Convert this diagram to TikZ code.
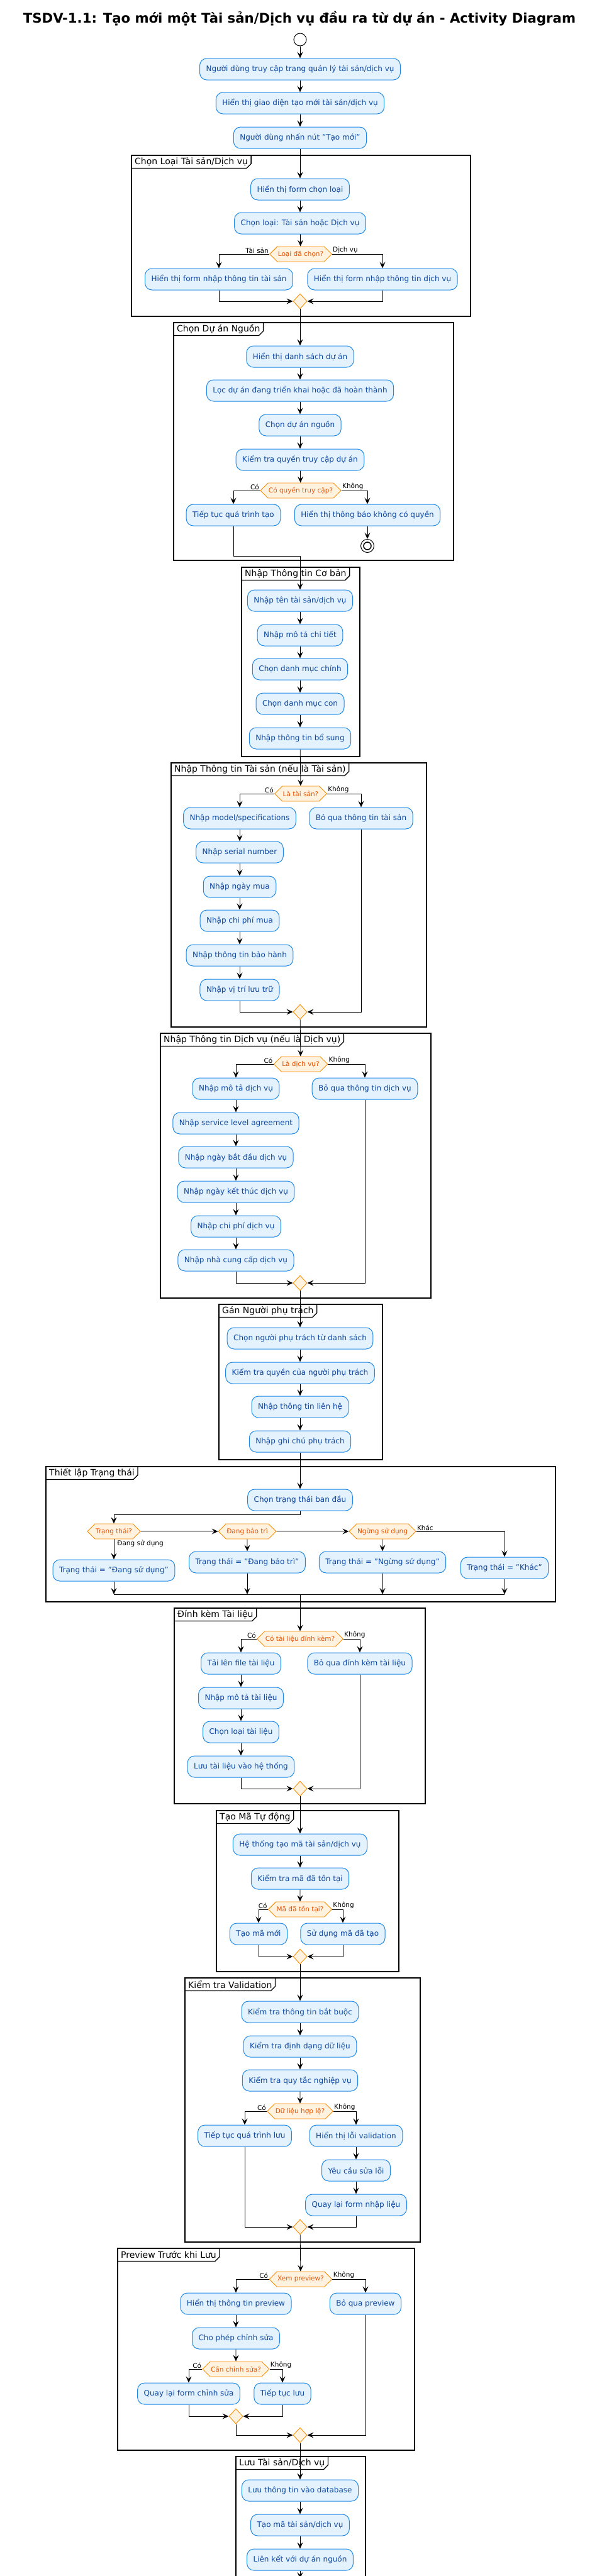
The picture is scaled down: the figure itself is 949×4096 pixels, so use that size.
\documentclass[tikz,border=0pt]{standalone}
\usepackage{fontspec}
\setmainfont{DejaVu Sans}
\usepackage{xcolor}
\usepackage{tikz}
\usetikzlibrary{arrows.meta,shapes.geometric,shapes.symbols}
\definecolor{actfill}{HTML}{E3F2FD}
\definecolor{actline}{HTML}{1E88E5}
\definecolor{acttext}{HTML}{0D47A1}
\definecolor{decfill}{HTML}{FFF3E0}
\definecolor{decline}{HTML}{FB8C00}
\definecolor{dectext}{HTML}{E65100}
\newcommand{\grpframe}[6]{%
   \draw[grp] (#2,#3) rectangle (#4,#5);
   \node[grplbl, anchor=north west] (#1) at (#2,#3) {#6};
   \draw[grp] (#1.south west) -- ([xshift=-7pt]#1.south east) -- ([yshift=7pt]#1.south east) -- (#1.north east);
}

\begin{document}
\begin{tikzpicture}[x=1pt,y=-1pt,
   act/.style={rectangle, rounded corners=11pt, draw=actline, fill=actfill, text=acttext, line width=1pt,
      font=\fontsize{12}{14}\selectfont, minimum height=34pt, inner xsep=10pt},
   dec/.style={signal, signal to=east and west, signal from=nowhere, draw=decline, fill=decfill, text=dectext,
      line width=0.9pt, font=\fontsize{10.5}{12}\selectfont, minimum height=24pt, inner xsep=1pt, inner ysep=0pt},
   mrg/.style={diamond, draw=decline, fill=decfill, line width=0.9pt, minimum width=22pt, minimum height=24pt, inner sep=0pt},
   lbl/.style={font=\fontsize{10.5}{12}\selectfont, inner sep=1pt},
   grp/.style={line width=1.3pt},
   grplbl/.style={font=\fontsize{14}{16}\selectfont, minimum height=20pt, inner xsep=5pt, inner ysep=0pt},
   flow/.style={-{Stealth[length=10pt,width=9pt,inset=4pt]}, line width=0.8pt}]
   \useasboundingbox (0,0) rectangle (949,4096);
   \clip (0,0) rectangle (949,4096);
   \node[font=\fontsize{21.2}{25}\selectfont\bfseries] (title) at (476,30) {TSDV-1.1: Tạo mới một Tài sản/Dịch vụ đầu ra từ dự án - Activity Diagram};

   \grpframe{t1}{209}{247}{748}{503}{Chọn Loại Tài sản/Dịch vụ}
   \grpframe{t2}{276}{513}{721}{891}{Chọn Dự án Nguồn}
   \grpframe{t3}{384}{902}{572}{1203}{Nhập Thông tin Cơ bản}
   \grpframe{t4}{272}{1213}{678}{1633}{Nhập Thông tin Tài sản (nếu là Tài sản)}
   \grpframe{t5}{255}{1643}{685}{2064}{Nhập Thông tin Dịch vụ (nếu là Dịch vụ)}
   \grpframe{t6}{348}{2074}{608}{2321}{Gán Người phụ trách}
   \grpframe{t7}{73}{2332}{883}{2547}{Thiết lập Trạng thái}
   \grpframe{t8}{277}{2557}{676}{2868}{Đính kèm Tài liệu}
   \grpframe{t9}{344}{2879}{634}{3135}{Tạo Mã Tự động}
   \grpframe{t10}{294}{3145}{668}{3565}{Kiểm tra Validation}
   \grpframe{t11}{187}{3575}{659}{3896}{Preview Trước khi Lưu}
   \grpframe{t12}{375}{3906}{581}{4130}{Lưu Tài sản/Dịch vụ}

   \node[circle, draw, fill=white, line width=1pt, minimum size=20pt] (start) at (477,63) {};
   \node[act] (a1) at (477,110) {Người dùng truy cập trang quản lý tài sản/dịch vụ};
   \node[act] (a2) at (477,164) {Hiển thị giao diện tạo mới tài sản/dịch vụ};
   \node[act] (a3) at (477,219) {Người dùng nhấn nút "Tạo mới"};

   \node[act] (b1) at (477,301) {Hiển thị form chọn loại};
   \node[act] (b2) at (477,355) {Chọn loại: Tài sản hoặc Dịch vụ};
   \node[dec] (d1) at (478,404) {Loại đã chọn?};
   \node[act] (b3) at (348,444) {Hiển thị form nhập thông tin tài sản};
   \node[act] (b4) at (608,444) {Hiển thị form nhập thông tin dịch vụ};
   \node[mrg] (m1) at (477,479) {};

   \node[act] (c1) at (477,567) {Hiển thị danh sách dự án};
   \node[act] (c2) at (477,621) {Lọc dự án đang triển khai hoặc đã hoàn thành};
   \node[act] (c3) at (477,676) {Chọn dự án nguồn};
   \node[act] (c4) at (477,731) {Kiểm tra quyền truy cập dự án};
   \node[dec] (d2) at (478,780) {Có quyền truy cập?};
   \node[act] (c5) at (371,819) {Tiếp tục quá trình tạo};
   \node[act] (c6) at (584,819) {Hiển thị thông báo không có quyền};
   \node[circle, draw, fill=white, line width=1pt, minimum size=21pt] (stop) at (584,868) {};
   \node[circle, draw, line width=1.5pt, minimum size=12pt] (stopin) at (584,868) {};
   \coordinate (j2) at (477,884);

   \node[act] (e1) at (477,955) {Nhập tên tài sản/dịch vụ};
   \node[act] (e2) at (477,1010) {Nhập mô tả chi tiết};
   \node[act] (e3) at (477,1064) {Chọn danh mục chính};
   \node[act] (e4) at (477,1119) {Chọn danh mục con};
   \node[act] (e5) at (477,1174) {Nhập thông tin bổ sung};

   \node[dec] (d3) at (478,1262) {Là tài sản?};
   \node[act] (f1) at (381,1301) {Nhập model/specifications};
   \node[act] (f7) at (574,1301) {Bỏ qua thông tin tài sản};
   \node[act] (f2) at (381,1355) {Nhập serial number};
   \node[act] (f3) at (381,1410) {Nhập ngày mua};
   \node[act] (f4) at (381,1464) {Nhập chi phí mua};
   \node[act] (f5) at (381,1519) {Nhập thông tin bảo hành};
   \node[act] (f6) at (381,1574) {Nhập vị trí lưu trữ};
   \node[mrg] (m2) at (477,1609) {};

   \node[dec] (d4) at (478,1692) {Là dịch vụ?};
   \node[act] (h1) at (375,1731) {Nhập mô tả dịch vụ};
   \node[act] (h7) at (580,1731) {Bỏ qua thông tin dịch vụ};
   \node[act] (h2) at (375,1786) {Nhập service level agreement};
   \node[act] (h3) at (375,1840) {Nhập ngày bắt đầu dịch vụ};
   \node[act] (h4) at (375,1895) {Nhập ngày kết thúc dịch vụ};
   \node[act] (h5) at (375,1950) {Nhập chi phí dịch vụ};
   \node[act] (h6) at (375,2004) {Nhập nhà cung cấp dịch vụ};
   \node[mrg] (m3) at (477,2040) {};

   \node[act] (i1) at (477,2128) {Chọn người phụ trách từ danh sách};
   \node[act] (i2) at (477,2183) {Kiểm tra quyền của người phụ trách};
   \node[act] (i3) at (477,2237) {Nhập thông tin liên hệ};
   \node[act] (i4) at (477,2292) {Nhập ghi chú phụ trách};

   \node[act] (s0) at (477,2385) {Chọn trạng thái ban đầu};
   \coordinate (sc) at (477,2408);
   \node[dec] (dd1) at (181,2435) {Trạng thái?};
   \node[dec] (dd2) at (393,2435) {Đang bảo trì};
   \node[dec] (dd3) at (608,2435) {Ngừng sử dụng};
   \node[act] (k1) at (181,2497) {Trạng thái = "Đang sử dụng"};
   \node[act] (k2) at (393,2484) {Trạng thái = "Đang bảo trì"};
   \node[act] (k3) at (608,2484) {Trạng thái = "Ngừng sử dụng"};
   \node[act] (k4) at (802,2493) {Trạng thái = "Khác"};
   \coordinate (sj1) at (181,2535);
   \coordinate (sj4) at (802,2535);

   \node[dec] (d5) at (477,2606) {Có tài liệu đính kèm?};
   \node[act] (l1) at (383,2645) {Tải lên file tài liệu};
   \node[act] (l5) at (572,2645) {Bỏ qua đính kèm tài liệu};
   \node[act] (l2) at (383,2700) {Nhập mô tả tài liệu};
   \node[act] (l3) at (383,2754) {Chọn loại tài liệu};
   \node[act] (l4) at (383,2809) {Lưu tài liệu vào hệ thống};
   \node[mrg] (m4) at (477,2844) {};

   \node[act] (n1) at (477,2933) {Hệ thống tạo mã tài sản/dịch vụ};
   \node[act] (n2) at (477,2987) {Kiểm tra mã đã tồn tại};
   \node[dec] (d6) at (477,3036) {Mã đã tồn tại?};
   \node[act] (n3) at (411,3075) {Tạo mã mới};
   \node[act] (n4) at (545,3075) {Sử dụng mã đã tạo};
   \node[mrg] (m5) at (477,3111) {};

   \node[act] (o1) at (477,3199) {Kiểm tra thông tin bắt buộc};
   \node[act] (o2) at (477,3254) {Kiểm tra định dạng dữ liệu};
   \node[act] (o3) at (477,3308) {Kiểm tra quy tắc nghiệp vụ};
   \node[dec] (d7) at (477,3357) {Dữ liệu hợp lệ?};
   \node[act] (o4) at (389,3396) {Tiếp tục quá trình lưu};
   \node[act] (o5) at (566,3396) {Hiển thị lỗi validation};
   \node[act] (o6) at (566,3451) {Yêu cầu sửa lỗi};
   \node[act] (o7) at (566,3506) {Quay lại form nhập liệu};
   \node[mrg] (m6) at (477,3541) {};

   \node[dec] (d8) at (478,3624) {Xem preview?};
   \node[act] (p1) at (375,3663) {Hiển thị thông tin preview};
   \node[act] (p5) at (581,3663) {Bỏ qua preview};
   \node[act] (p2) at (375,3718) {Cho phép chỉnh sửa};
   \node[dec] (d9) at (375,3767) {Cần chỉnh sửa?};
   \node[act] (p3) at (300,3806) {Quay lại form chỉnh sửa};
   \node[act] (p4) at (449,3806) {Tiếp tục lưu};
   \node[mrg] (m7) at (375,3842) {};
   \node[mrg] (m8) at (477,3872) {};

   \node[act] (q1) at (477,3960) {Lưu thông tin vào database};
   \node[act] (q2) at (477,4015) {Tạo mã tài sản/dịch vụ};
   \node[act] (q3) at (477,4070) {Liên kết với dự án nguồn};
   \coordinate (qend) at (477,4100);

   \draw[flow] (start) -- (a1);
   \draw[flow] (a1) -- (a2);
   \draw[flow] (a2) -- (a3);
   \draw[flow] (a3) -- (b1);
   \draw[flow] (b1) -- (b2);
   \draw[flow] (b2) -- (d1);
   \draw[flow] (d1.west) node[lbl, anchor=south east] (y1) {Tài sản} -| (b3.north);
   \draw[flow] (d1.east) node[lbl, anchor=south west] (x1) {Dịch vụ} -| (b4.north);
   \draw[flow] (b3.south) |- (m1.west);
   \draw[flow] (b4.south) |- (m1.east);
   \draw[flow] (m1) -- (c1);
   \draw[flow] (c1) -- (c2);
   \draw[flow] (c2) -- (c3);
   \draw[flow] (c3) -- (c4);
   \draw[flow] (c4) -- (d2);
   \draw[flow] (d2.west) node[lbl, anchor=south east] (y2) {Có} -| (c5.north);
   \draw[flow] (d2.east) node[lbl, anchor=south west] (x2) {Không} -| (c6.north);
   \draw[flow] (c6) -- (stop);
   \draw[flow] (c5.south) |- (j2) -- (e1.north);
   \draw[flow] (e1) -- (e2);
   \draw[flow] (e2) -- (e3);
   \draw[flow] (e3) -- (e4);
   \draw[flow] (e4) -- (e5);
   \draw[flow] (e5) -- (d3);
   \draw[flow] (d3.west) node[lbl, anchor=south east] (y3) {Có} -| (f1.north);
   \draw[flow] (d3.east) node[lbl, anchor=south west] (x3) {Không} -| (f7.north);
   \draw[flow] (f1) -- (f2);
   \draw[flow] (f2) -- (f3);
   \draw[flow] (f3) -- (f4);
   \draw[flow] (f4) -- (f5);
   \draw[flow] (f5) -- (f6);
   \draw[flow] (f6.south) |- (m2.west);
   \draw[flow] (f7.south) |- (m2.east);
   \draw[flow] (m2) -- (d4);
   \draw[flow] (d4.west) node[lbl, anchor=south east] (y4) {Có} -| (h1.north);
   \draw[flow] (d4.east) node[lbl, anchor=south west] (x4) {Không} -| (h7.north);
   \draw[flow] (h1) -- (h2);
   \draw[flow] (h2) -- (h3);
   \draw[flow] (h3) -- (h4);
   \draw[flow] (h4) -- (h5);
   \draw[flow] (h5) -- (h6);
   \draw[flow] (h6.south) |- (m3.west);
   \draw[flow] (h7.south) |- (m3.east);
   \draw[flow] (m3) -- (i1);
   \draw[flow] (i1) -- (i2);
   \draw[flow] (i2) -- (i3);
   \draw[flow] (i3) -- (i4);
   \draw[flow] (i4) -- (s0);
   \draw[flow] (s0.south) -- (sc) -| (dd1.north);
   \draw[flow] (dd1) -- (dd2);
   \draw[flow] (dd2) -- (dd3);
   \draw[flow] (dd3.east) node[lbl, anchor=south west] (x5) {Khác} -| (k4.north);
   \draw[flow] (dd1.south) node[lbl, anchor=north west, xshift=4pt] (y5) {Đang sử dụng} -- (k1.north);
   \draw[flow] (dd2) -- (k2);
   \draw[flow] (dd3) -- (k3);
   \draw[flow] (k1.south) -- (sj1);
   \draw[flow] (k2.south) -- (k2.south |- sj1);
   \draw[flow] (k3.south) -- (k3.south |- sj1);
   \draw[flow] (k4.south) -- (sj4);
   \draw[line width=0.8pt] (sj1) -- (sj4);
   \draw[flow] (d5.north |- sj1) -- (d5.north);
   \draw[flow] (d5.west) node[lbl, anchor=south east] (y6) {Có} -| (l1.north);
   \draw[flow] (d5.east) node[lbl, anchor=south west] (x6) {Không} -| (l5.north);
   \draw[flow] (l1) -- (l2);
   \draw[flow] (l2) -- (l3);
   \draw[flow] (l3) -- (l4);
   \draw[flow] (l4.south) |- (m4.west);
   \draw[flow] (l5.south) |- (m4.east);
   \draw[flow] (m4) -- (n1);
   \draw[flow] (n1) -- (n2);
   \draw[flow] (n2) -- (d6);
   \draw[flow] (d6.west) node[lbl, anchor=south east] (y7) {Có} -| (n3.north);
   \draw[flow] (d6.east) node[lbl, anchor=south west] (x7) {Không} -| (n4.north);
   \draw[flow] (n3.south) |- (m5.west);
   \draw[flow] (n4.south) |- (m5.east);
   \draw[flow] (m5) -- (o1);
   \draw[flow] (o1) -- (o2);
   \draw[flow] (o2) -- (o3);
   \draw[flow] (o3) -- (d7);
   \draw[flow] (d7.west) node[lbl, anchor=south east] (y8) {Có} -| (o4.north);
   \draw[flow] (d7.east) node[lbl, anchor=south west] (x8) {Không} -| (o5.north);
   \draw[flow] (o5) -- (o6);
   \draw[flow] (o6) -- (o7);
   \draw[flow] (o4.south) |- (m6.west);
   \draw[flow] (o7.south) |- (m6.east);
   \draw[flow] (m6) -- (d8);
   \draw[flow] (d8.west) node[lbl, anchor=south east] (y9) {Có} -| (p1.north);
   \draw[flow] (d8.east) node[lbl, anchor=south west] (x9) {Không} -| (p5.north);
   \draw[flow] (p1) -- (p2);
   \draw[flow] (p2) -- (d9);
   \draw[flow] (d9.west) node[lbl, anchor=south east] (y10) {Có} -| (p3.north);
   \draw[flow] (d9.east) node[lbl, anchor=south west] (x10) {Không} -| (p4.north);
   \draw[flow] (p3.south) |- (m7.west);
   \draw[flow] (p4.south) |- (m7.east);
   \draw[flow] (m7.south) |- (m8.west);
   \draw[flow] (p5.south) |- (m8.east);
   \draw[flow] (m8) -- (q1);
   \draw[flow] (q1) -- (q2);
   \draw[flow] (q2) -- (q3);
   \draw[flow] (q3) -- (qend);
\end{tikzpicture}
\end{document}
